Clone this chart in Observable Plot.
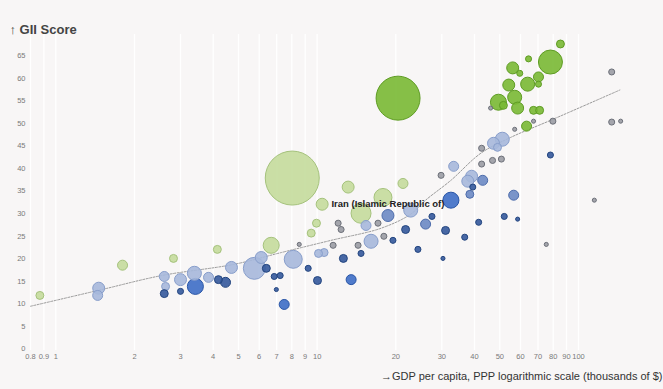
<!DOCTYPE html>
<html>
<head>
<meta charset="utf-8">
<script src="https://cdn.jsdelivr.net/npm/d3@7"></script>
<script src="https://cdn.jsdelivr.net/npm/@observablehq/plot@0.6"></script>
<style>
  html, body { margin: 0; padding: 0; background: #f8f6f6; }
  #chart svg { display: block; background: #f8f6f6; }
</style>
</head>
<body>
<div id="chart"></div>
<script>
// GDP per capita (thousands of $, PPP) for each economy
const gdp = [
  20.4, 78.1, 85.3, 64.4, 56.0, 59.6, 70.3, 54.1, 63.9, 70.3,
  57.0, 49.4, 51.6, 58.5, 67.3, 71.0, 46.1, 63.3, 67.3, 57.0,
  79.8, 134, 134, 145, 78.1, 115, 75.3, 51.1, 47.3, 49.0,
  42.6, 33.3, 42.6, 46.9, 50.7, 39.0, 37.7, 43.0, 39.4, 38.4,
  56.5, 32.5, 52.0, 29.8, 22.8, 27.5, 58.5, 21.8, 26.0, 31.0,
  41.5, 36.7, 24.3, 30.3, 8.03, 13.14, 21.3, 17.86, 10.45, 14.72,
  18.66, 9.94, 12.03, 9.49, 12.35, 15.38, 17.09, 18.0, 19.5, 16.08,
  14.34, 11.51, 8.54, 6.67, 10.63, 10.12, 12.6, 14.72, 8.10, 5.75,
  6.11, 6.39, 9.24, 6.85, 7.22, 10.03, 13.49, 6.98, 7.48, 0.869,
  1.459, 1.446, 1.80, 2.82, 4.15, 2.60, 2.63, 2.60, 3.00, 3.00,
  3.39, 3.42, 3.84, 4.19, 4.46, 4.70
];

// Global Innovation Index score
const gii = [
  55.9, 63.9, 67.9, 64.6, 62.6, 61.4, 60.6, 58.8, 59.0, 59.0,
  56.1, 55.0, 54.3, 53.7, 53.2, 53.2, 53.7, 49.7, 50.8, 49.0,
  50.8, 61.7, 50.6, 50.8, 43.3, 33.3, 23.5, 46.8, 45.9, 45.0,
  44.8, 40.8, 41.3, 42.1, 42.4, 38.6, 37.5, 37.7, 36.2, 34.6,
  34.4, 33.3, 29.7, 38.8, 31.1, 29.7, 29.1, 26.8, 28.0, 26.6,
  28.4, 25.1, 22.4, 20.4, 38.2, 36.2, 37.0, 33.9, 32.4, 30.4,
  29.9, 28.2, 28.2, 26.0, 26.8, 27.7, 28.2, 25.3, 24.4, 24.2,
  23.3, 23.3, 23.5, 23.3, 21.7, 21.5, 20.4, 21.5, 20.2, 18.2,
  20.6, 18.2, 18.2, 16.4, 16.6, 15.5, 15.7, 13.5, 10.2, 12.2,
  13.8, 12.2, 18.9, 20.4, 22.4, 16.4, 14.2, 12.6, 13.1, 15.7,
  17.1, 14.2, 16.2, 15.7, 15.1, 18.4
];

// Population (millions) sets the bubble area
const pop = [
  1160, 346, 38, 22, 86, 22, 60, 86, 118, 22,
  118, 154, 38, 86, 38, 38, 10, 60, 10, 10,
  22, 22, 22, 10, 22, 10, 10, 118, 86, 38,
  22, 60, 22, 22, 22, 86, 86, 60, 22, 38,
  60, 154, 22, 22, 118, 22, 10, 38, 60, 38,
  22, 22, 22, 10, 1750, 86, 60, 194, 86, 240,
  86, 38, 22, 38, 22, 60, 22, 22, 22, 118,
  22, 22, 10, 154, 38, 38, 38, 22, 194, 290,
  86, 38, 22, 22, 22, 38, 60, 10, 60, 38,
  86, 60, 60, 38, 38, 60, 38, 38, 22, 86,
  118, 154, 60, 38, 60, 86
];

// Performance group of each economy
const group = [
  "G", "G", "G", "G", "G", "G", "G", "G", "G", "G",
  "G", "G", "G", "G", "G", "G", "GR", "G", "GR", "GR",
  "GR", "GR", "GR", "GR", "DB", "GR", "GR", "LB", "LB", "LB",
  "GR", "LB", "GR", "GR", "GR", "LB", "LB", "MB", "DB", "MB",
  "MB", "BB", "DB", "GR", "LB", "DB", "DB", "DB", "MB", "DB",
  "DB", "DB", "DB", "DB", "LG", "LG", "LG", "LG", "LG", "LG",
  "MB", "LG", "GR", "LG", "GR", "LB", "GR", "GR", "DB", "LB",
  "GR", "GR", "GR", "LG", "LB", "LB", "DB", "DB", "LB", "LB",
  "LB", "DB", "DB", "DB", "DB", "DB", "BB", "DB", "BB", "LG",
  "LB", "LB", "LG", "LG", "LG", "LB", "LB", "DB", "DB", "LB",
  "LB", "BB", "LB", "DB", "DB", "LB"
];

// Named economies
const names = { 60: "Iran (Islamic Republic of)" };

// Fitted trend of score against income
const trendGdp = [0.8, 1.5, 2.54, 4.82, 7.29, 11.3, 17.6, 22.8, 26.0, 32.5, 42.3, 55.0, 78.3, 144];
const trendGii = [9.8, 13.5, 16.6, 19.1, 21.7, 24.4, 27.1, 30.2, 33.3, 37.7, 43.7, 47.2, 51.0, 57.7];

const xTicks = [0.8, 0.9, 1, 2, 3, 4, 5, 6, 7, 8, 9, 10, 20, 30, 40, 50, 60, 70, 80, 90, 100];
const yTicks = d3.range(0, 70, 5);

const fills = { G: "#79b934", LG: "#c4dc9c", LB: "#a6b8dc", MB: "#6c89c4", DB: "#34599c", BB: "#3d6ec6", GR: "#9a9ca4" };
const strokes = { G: "#5f9c24", LG: "#a5c27c", LB: "#889ecb", MB: "#4d6cab", DB: "#23457f", BB: "#2955a6", GR: "#6c6f78" };

const points = gdp.map((x, i) => ({ x, y: gii[i], pop: pop[i], group: group[i], name: names[i] }));
const trend = trendGdp.map((x, i) => ({ x, y: trendGii[i] }));

const chart = Plot.plot({
  width: 663,
  height: 389,
  marginLeft: 30,
  marginRight: 39,
  marginTop: 34,
  marginBottom: 39,
  style: { fontFamily: "Liberation Sans, Arial, sans-serif", background: "#f8f6f6" },
  x: { type: "log", domain: [0.8, 150], axis: null },
  y: { domain: [0, 70] },
  r: { type: "sqrt", domain: [0, 1500], range: [0, 25] },
  color: { type: "identity" },
  marks: [
    Plot.ruleX(xTicks, { stroke: "#ffffff", strokeWidth: 1.3 }),
    Plot.axisY({ ticks: yTicks, tickSize: 0, tickPadding: 5, dy: -1.5, label: null, fontSize: 7.5, fill: "#7a7a7a" }),
    // log-axis tick labels, every tick labelled
    Plot.text(xTicks, {
      x: d => d, text: d => String(d), frameAnchor: "bottom",
      lineAnchor: "top", dy: 3.5, fontSize: 7.5, fill: "#7a7a7a"
    }),
    Plot.line(trend, { x: "x", y: "y", curve: "catmull-rom", stroke: "#9a9a9a", strokeWidth: 1, strokeDasharray: "2,1.5" }),
    Plot.dot(points, {
      x: "x", y: "y", r: "pop",
      fill: d => fills[d.group],
      stroke: d => strokes[d.group],
      fillOpacity: 0.9,
      strokeWidth: 1
    }),
    Plot.text(points.filter(d => d.name), {
      x: "x", y: "y", text: "name", dy: -12,
      fontSize: 9.5, fontWeight: "bold", fill: "#222"
    }),
    Plot.text(["↑ GII Score"], {
      frameAnchor: "top-left", textAnchor: "start", dx: -21, dy: -10,
      fontSize: 13, fontWeight: "bold", fill: "#444"
    }),
    Plot.text(["→GDP per capita, PPP logarithmic scale (thousands of $)"], {
      frameAnchor: "bottom-right", textAnchor: "end", dx: 38, dy: 29,
      fontSize: 11, fill: "#333"
    })
  ]
});

document.getElementById("chart").appendChild(chart);
</script>
</body>
</html>
